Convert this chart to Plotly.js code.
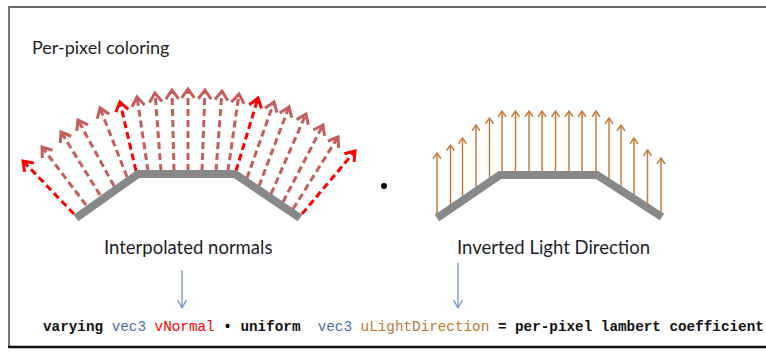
<!DOCTYPE html>
<html>
<head>
<meta charset="utf-8">
<script src="https://cdn.plot.ly/plotly-3.0.1.min.js"></script>
<style>html,body{margin:0;padding:0;background:#fff;}#chart{width:766px;height:356px;}</style>
</head>
<body>
<div id="chart"></div>
<script>
// ---- data (pixel-space diagram coordinates) ----
const surfaceLeftX  = [76, 138, 235, 300];
const surfaceLeftY  = [218, 174, 174, 218];
const surfaceRightX = [437, 500, 597, 662];
const surfaceRightY = [218, 175, 175, 217];

const normalBaseX = [74, 86, 100, 114, 127, 136, 148, 161, 174, 188, 202, 216, 228, 236, 247, 259, 271, 283, 293, 302];
const normalBaseY = [214, 205, 195, 186, 177, 171, 171, 171, 171, 171, 171, 171, 171, 171, 178, 186, 194, 202, 209, 214];
const normalTipX  = [23, 42, 61, 78, 100, 120, 137, 155, 172, 188, 205, 222, 239, 258, 274, 289, 306, 323, 338, 355];
const normalTipY  = [161, 147, 132, 120, 108, 102, 97, 93, 90, 89, 90, 91, 94, 98, 102, 107, 114, 125, 137, 151];
const normalIsVertex = [true, false, false, false, false, true, false, false, false, false, false, false, false, true, false, false, false, false, false, true];

const lightX     = [437, 450.5, 462.5, 476, 489.5, 502, 515.5, 529, 542, 555.5, 569, 582, 596, 609, 621, 634, 647.5, 661];
const lightBaseY = [214, 205, 197, 187, 178, 171, 171, 171, 171, 171, 171, 171, 171, 179, 187, 195, 204, 212];
const lightTipY  = [153, 145, 138, 125, 118, 111, 111, 111, 111, 111, 111, 111, 111, 118, 125, 138, 150, 158];

const pointerX    = [182, 458];
const pointerTopY = [270, 263];
const pointerTipY = [308, 308];

const dotX = [384];
const dotY = [186];

const headingText = "Per-pixel coloring";
const labelText = ["Interpolated normals", "Inverted Light Direction"];
const labelX = [188, 553];
const labelY = [247, 247];

const codeParts = [
  {t: "varying", c: "#111111", b: true},
  {t: " ", c: "#111111", b: false},
  {t: "vec3", c: "#4a6ea8", b: false},
  {t: " ", c: "#111111", b: false},
  {t: "vNormal", c: "#ff0000", b: false},
  {t: " ", c: "#111111", b: false},
  {t: "\u2022", c: "#000000", b: true},
  {t: " ", c: "#111111", b: false},
  {t: "uniform", c: "#111111", b: true},
  {t: "\u00a0\u00a0", c: "#111111", b: false},
  {t: "vec3", c: "#4a6ea8", b: false},
  {t: " ", c: "#111111", b: false},
  {t: "uLightDirection", c: "#c0782f", b: false},
  {t: " ", c: "#111111", b: false},
  {t: "= per-pixel lambert coefficient", c: "#111111", b: true}
];

// ---- helpers ----
function segs(x0, y0, x1, y1) {
  const xs = [], ys = [];
  for (let i = 0; i < x0.length; i++) { xs.push(x0[i], x1[i], null); ys.push(y0[i], y1[i], null); }
  return {x: xs, y: ys};
}
function heads(x0, y0, x1, y1, len, ang) {
  const xs = [], ys = [];
  for (let i = 0; i < x0.length; i++) {
    const dx = x1[i] - x0[i], dy = y1[i] - y0[i];
    const n = Math.hypot(dx, dy), ux = dx / n, uy = dy / n;
    const c = Math.cos(ang), s = Math.sin(ang);
    const ax = ux * c - uy * s, ay = ux * s + uy * c;
    const bx = ux * c + uy * s, by = -ux * s + uy * c;
    xs.push(x1[i] - len * ax, x1[i], x1[i] - len * bx, null);
    ys.push(y1[i] - len * ay, y1[i], y1[i] - len * by, null);
  }
  return {x: xs, y: ys};
}
function pick(arr, flag, want) { return arr.filter((_, i) => flag[i] === want); }

const traces = [];
// normals (muted then vertex normals)
[[false, "#c55e5b"], [true, "#ff0000"]].forEach(([want, col]) => {
  const bx = pick(normalBaseX, normalIsVertex, want), by = pick(normalBaseY, normalIsVertex, want);
  const tx = pick(normalTipX, normalIsVertex, want), ty = pick(normalTipY, normalIsVertex, want);
  const s = segs(bx, by, tx, ty);
  traces.push({x: s.x, y: s.y, mode: "lines", line: {color: col, width: 3, dash: "7px,4px"}, hoverinfo: "skip"});
  const h = heads(bx, by, tx, ty, 11, 0.62);
  traces.push({x: h.x, y: h.y, mode: "lines", line: {color: col, width: 3}, hoverinfo: "skip"});
});
// light direction arrows
{
  const s = segs(lightX, lightBaseY, lightX, lightTipY);
  traces.push({x: s.x, y: s.y, mode: "lines", line: {color: "#c47c3c", width: 1.5}, hoverinfo: "skip"});
  const h = heads(lightX, lightBaseY, lightX, lightTipY, 7, 0.6);
  traces.push({x: h.x, y: h.y, mode: "lines", line: {color: "#c47c3c", width: 1.5}, hoverinfo: "skip"});
}
// surfaces
traces.push({x: surfaceLeftX, y: surfaceLeftY, mode: "lines", line: {color: "#888888", width: 8}, hoverinfo: "skip"});
traces.push({x: surfaceRightX, y: surfaceRightY, mode: "lines", line: {color: "#888888", width: 8}, hoverinfo: "skip"});
// pointer arrows
{
  const s = segs(pointerX, pointerTopY, pointerX, pointerTipY);
  traces.push({x: s.x, y: s.y, mode: "lines", line: {color: "#6a8cc6", width: 1.2}, hoverinfo: "skip"});
  const h = heads(pointerX, pointerTopY, pointerX, pointerTipY, 9, 0.5);
  traces.push({x: h.x, y: h.y, mode: "lines", line: {color: "#6a8cc6", width: 1.2}, hoverinfo: "skip"});
}
// dot product dot
traces.push({x: dotX, y: dotY, mode: "markers", marker: {color: "#000", size: 6}, hoverinfo: "skip"});

const codeHtml = codeParts.map(p => {
  const inner = p.b ? "<b>" + p.t + "</b>" : p.t;
  return '<span style="color:' + p.c + '">' + inner + "</span>";
}).join("");

const annotations = [
  {x: 30, y: 47, xref: "x", yref: "y", xanchor: "left", yanchor: "middle", text: headingText, showarrow: false,
   font: {family: "Lato, 'Open Sans', sans-serif", size: 18, color: "#1e1e28"}}
];
labelText.forEach((t, i) => annotations.push({
  x: labelX[i], y: labelY[i], xref: "x", yref: "y", xanchor: "center", yanchor: "middle", text: t, showarrow: false,
  font: {family: "Lato, 'Open Sans', sans-serif", size: 18.5, color: "#1e1e28"}
}));
annotations.push({x: 41, y: 327, xref: "x", yref: "y", xanchor: "left", yanchor: "middle", text: codeHtml, showarrow: false,
  font: {family: "'Liberation Mono', 'DejaVu Sans Mono', monospace", size: 14.3, color: "#111"}});

const layout = {
  width: 766, height: 356,
  margin: {l: 0, r: 0, t: 0, b: 0},
  paper_bgcolor: "#ffffff", plot_bgcolor: "#ffffff",
  showlegend: false, hovermode: false,
  xaxis: {range: [0, 766], visible: false, fixedrange: true},
  yaxis: {range: [356, 0], visible: false, fixedrange: true},
  annotations: annotations,
  shapes: [
    {type: "line", xref: "x", yref: "y", x0: 8, x1: 766, y0: 7, y1: 7, line: {color: "#666666", width: 2}},
    {type: "line", xref: "x", yref: "y", x0: 9, x1: 9, y0: 7, y1: 347, line: {color: "#777777", width: 2}},
    {type: "line", xref: "x", yref: "y", x0: 8, x1: 766, y0: 347, y1: 347, line: {color: "#111111", width: 2.5}}
  ]
};

Plotly.newPlot("chart", traces, layout, {staticPlot: true, displayModeBar: false});
</script>
</body>
</html>
